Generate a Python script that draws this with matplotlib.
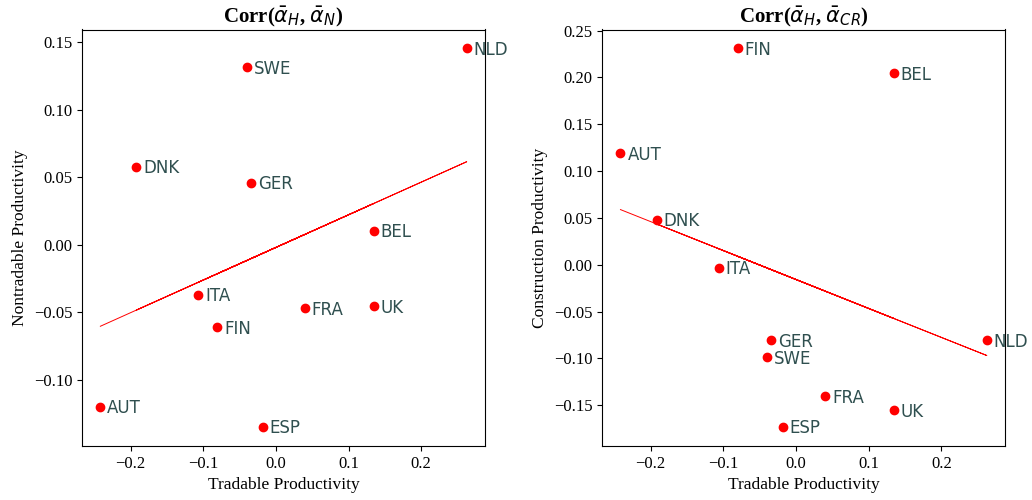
import numpy as np
import matplotlib
matplotlib.use("Agg")
import matplotlib.pyplot as plt

countries = ["AUT", "BEL", "DNK", "ESP", "FIN", "FRA", "GER", "ITA", "NLD", "SWE", "UK"]
tradable = [-0.2415, 0.1345, -0.1919, -0.0183, -0.0803, 0.0400, -0.0337, -0.1065, 0.2627, -0.0395, 0.1345]
nontradable = [-0.1202, 0.0103, 0.0575, -0.1350, -0.0612, -0.0472, 0.0457, -0.0369, 0.1453, 0.1313, -0.0457]
construction = [0.1191, 0.2043, 0.0479, -0.1734, 0.2309, -0.1404, -0.0809, -0.0032, -0.0809, -0.0989, -0.1553]

plt.rcParams["font.family"] = ["Liberation Serif", "DejaVu Sans"]
plt.rcParams["mathtext.fontset"] = "dejavusans"

fig = plt.figure(figsize=(10.32, 5), dpi=100)
ax1 = fig.add_axes([0.0795, 0.108, 0.3905, 0.833])
ax2 = fig.add_axes([0.5835, 0.108, 0.3905, 0.833])

panels = [
    (ax1, nontradable, r"Corr($\bar{\alpha}_H$, $\bar{\alpha}_N$)", "Nontradable Productivity"),
    (ax2, construction, r"Corr($\bar{\alpha}_H$, $\bar{\alpha}_{CR}$)", "Construction Productivity"),
]

x = np.array(tradable)
for ax, yv, title, ylabel in panels:
    y = np.array(yv)
    ax.plot(x, y, "o", color="red", ms=6)
    b, a = np.polyfit(x, y, 1)
    # fitted line drawn in data order (unsorted), as in the original
    ax.plot(x, a + b * x, color="red", lw=0.7)
    for name, xi, yi in zip(countries, x, y):
        ax.annotate(name, (xi, yi), xytext=(5, -1), textcoords="offset points",
                    va="center", ha="left", fontsize=12, color="#2F4F4F",
                    family="DejaVu Sans", annotation_clip=False)
    ax.set_title(title, fontsize=15, fontweight="bold", pad=5)
    ax.set_xlabel("Tradable Productivity", fontsize=12.5)
    ax.set_ylabel(ylabel, fontsize=12.5)
    ax.tick_params(labelsize=12)
    ax.set_xticks([-0.2, -0.1, 0.0, 0.1, 0.2])

fig.savefig("out.png", dpi=100)
